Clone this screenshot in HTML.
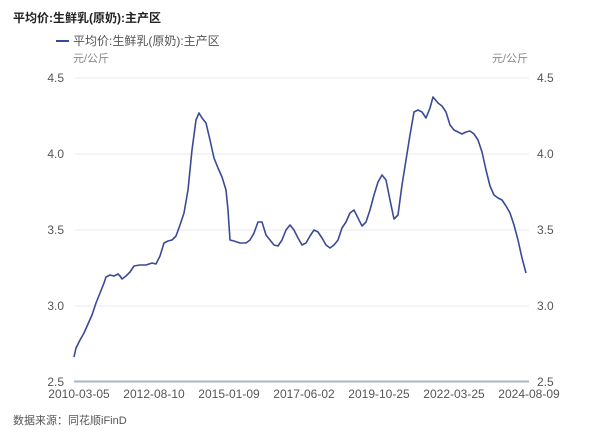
<!DOCTYPE html>
<html><head><meta charset="utf-8"><style>
body{margin:0;background:#fff;}
svg text{font-family:"Liberation Sans","Noto Sans CJK SC",sans-serif;}
</style></head><body>
<svg width="600" height="439" xmlns="http://www.w3.org/2000/svg">
<rect width="600" height="439" fill="#fff"/>
<text x="13" y="22" font-size="12" font-weight="bold" fill="#222">平均价:生鲜乳(原奶):主产区</text>
<line x1="56" y1="41" x2="69" y2="41" stroke="#3b4a96" stroke-width="2"/>
<text x="73" y="45" font-size="12" fill="#555">平均价:生鲜乳(原奶):主产区</text>
<text x="73" y="62" font-size="11" fill="#888">元/公斤</text>
<text x="528" y="62" font-size="11" fill="#888" text-anchor="end">元/公斤</text>
<g stroke="#e8eaf2" stroke-width="1">
<line x1="74" y1="78" x2="529" y2="78"/>
<line x1="74" y1="154" x2="529" y2="154"/>
<line x1="74" y1="230" x2="529" y2="230"/>
<line x1="74" y1="306" x2="529" y2="306"/>
</g>
<line x1="74" y1="381.5" x2="529" y2="381.5" stroke="#a9b4c6" stroke-width="2"/>
<g font-size="12" fill="#555" text-anchor="end">
<text x="64" y="82">4.5</text><text x="64" y="158">4.0</text><text x="64" y="234">3.5</text><text x="64" y="310">3.0</text><text x="64" y="386">2.5</text>
</g>
<g font-size="12" fill="#555">
<text x="537" y="82">4.5</text><text x="537" y="158">4.0</text><text x="537" y="234">3.5</text><text x="537" y="310">3.0</text><text x="537" y="386">2.5</text>
</g>
<g font-size="12" fill="#555" text-anchor="middle">
<text x="79" y="398">2010-03-05</text><text x="154" y="398">2012-08-10</text><text x="229" y="398">2015-01-09</text><text x="304" y="398">2017-06-02</text><text x="379" y="398">2019-10-25</text><text x="454" y="398">2022-03-25</text><text x="529" y="398">2024-08-09</text>
</g>
<text x="13" y="424" font-size="11" fill="#555">数据来源：同花顺iFinD</text>
<polyline fill="none" stroke="#3b4a96" stroke-width="1.6" stroke-linejoin="round" points="74,357 76,348 78,344 80,340 84,333 88,324 92,315 96,303 100,293 104,283 106,277 110,275 114,276 118,274 120,276 122,279 126,276 130,272 134,266 140,265 146,265 152,263 156,264 160,256 164,243 168,241 172,240 176,236 180,225 184,213 188,190 192,150 196,120 199,113 202,118 206,123 210,140 214,158 218,168 222,177 226,190 228,210 230,240 234,241 240,243 246,243 250,240 254,233 258,222 262,222 266,235 270,240 274,245 278,246 282,240 286,230 290,225 294,230 298,238 302,245 306,243 310,236 314,230 318,232 322,238 326,245 330,248 334,245 338,240 342,228 346,222 350,213 354,210 358,218 362,226 366,222 370,210 374,195 378,182 382,175 386,180 390,200 394,219 398,215 402,185 406,160 410,135 414,112 418,110 422,112 426,118 430,108 433,97 438,103 442,106 446,112 450,125 454,130 458,132 462,134 466,132 470,131 474,134 478,140 482,152 486,170 490,186 494,195 498,198 502,200 506,206 510,213 514,225 518,240 522,258 526,273"/>
</svg>
</body></html>
